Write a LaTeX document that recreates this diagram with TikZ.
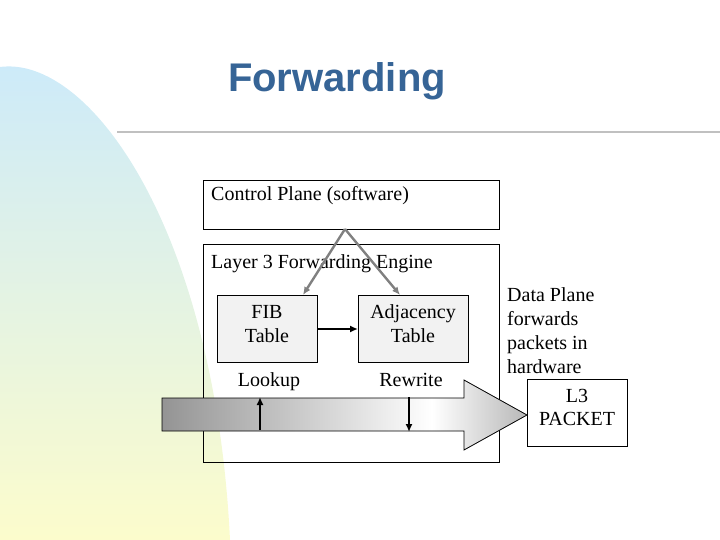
\documentclass[tikz,border=0pt]{standalone}
\usepackage{fontspec}
\setmainfont{Liberation Serif}
\newfontfamily\titlefont{Liberation Sans}
\usetikzlibrary{arrows.meta}
\definecolor{titleblue}{RGB}{54,100,150}
\definecolor{blobtop}{RGB}{204,234,250}
\definecolor{blobbot}{RGB}{252,252,204}
\definecolor{rulegray}{RGB}{192,192,192}
\definecolor{boxfill}{RGB}{242,242,242}
\definecolor{linkgray}{RGB}{128,128,128}
\pgfdeclarehorizontalshading{arrowshade}{100bp}{color(0bp)=(black!42); color(25bp)=(black!42); color(62bp)=(white); color(75bp)=(black!28); color(100bp)=(black!28)}
\tikzset{
  txt/.style={font=\fontsize{20}{24}\selectfont, inner sep=0pt, anchor=base},
  ltxt/.style={txt, anchor=base west},
  frame/.style={draw=black, line width=1pt, inner sep=0pt, anchor=north west},
  tablebox/.style={frame, fill=boxfill},
  graylink/.style={draw=linkgray, line width=2.4pt, -{Latex[length=8pt,width=7pt]}},
  blacklink/.style={draw=black, line width=2.4pt, -{Latex[length=8pt,width=7pt]}},
}
\begin{document}
\begin{tikzpicture}[x=1pt,y=-1pt]
\useasboundingbox (0,0) rectangle (720,540);
% background blob
\shade[top color=blobtop, bottom color=blobbot, draw=none]
  (0,540) -- (0,67) .. controls (90,55) and (215,230) .. (230,540) -- cycle;
% title
\node[font=\titlefont\bfseries\fontsize{40}{48}\selectfont, text=titleblue, inner sep=0pt, anchor=base] (title) at (337,92) {Forwarding};
\draw[rulegray, line width=2pt] (117,132) -- (720,132);
% boxes
\node[frame, minimum width=296pt, minimum height=49pt] (cp) at (203,180) {};
\node[ltxt] (cptxt) at (211,201) {Control Plane (software)};
\node[frame, minimum width=296pt, minimum height=218pt] (l3) at (203,244) {};
\node[ltxt] (l3txt) at (211,268) {Layer 3 Forwarding Engine};
\node[tablebox, minimum width=100pt, minimum height=67pt] (fib) at (217,295) {};
\node[txt] (fibA) at (267,318) {FIB};
\node[txt] (fibB) at (267,342) {Table};
\node[tablebox, minimum width=110pt, minimum height=67pt] (adj) at (358,295) {};
\node[txt] (adjA) at (413,318) {Adjacency};
\node[txt] (adjB) at (413,342) {Table};
\node[txt] (lookup) at (269,386) {Lookup};
\node[txt] (rewrite) at (411,386) {Rewrite};
% gray links
\coordinate (apex) at (345,229);
\draw[graylink] (apex) -- (303,295);
\draw[graylink] (apex) -- (400,295);
\draw[blacklink] (fib.east) -- (adj.west);
% big arrow
\shade[draw=black, line width=0.8pt, shading=arrowshade]
  (162,398) -- (464,398) -- (464,380) -- (527,415) -- (464,450) -- (464,431) -- (162,431) -- cycle;
\coordinate (lkB) at (260,430);
\coordinate (lkT) at (260,397);
\coordinate (rwT) at (409,397);
\coordinate (rwB) at (409,432);
\draw[blacklink] (lkB) -- (lkT);
\draw[blacklink] (rwT) -- (rwB);
% right text
\node[ltxt] (dp1) at (507,301) {Data Plane};
\node[ltxt] (dp2) at (507,325) {forwards};
\node[ltxt] (dp3) at (507,349) {packets in};
\node[ltxt] (dp4) at (507,373) {hardware};
\node[frame, fill=white, minimum width=100pt, minimum height=67pt] (pkt) at (527,379) {};
\node[txt] (pktA) at (577,402) {L3};
\node[txt] (pktB) at (577,425) {PACKET};
\end{tikzpicture}
\end{document}
